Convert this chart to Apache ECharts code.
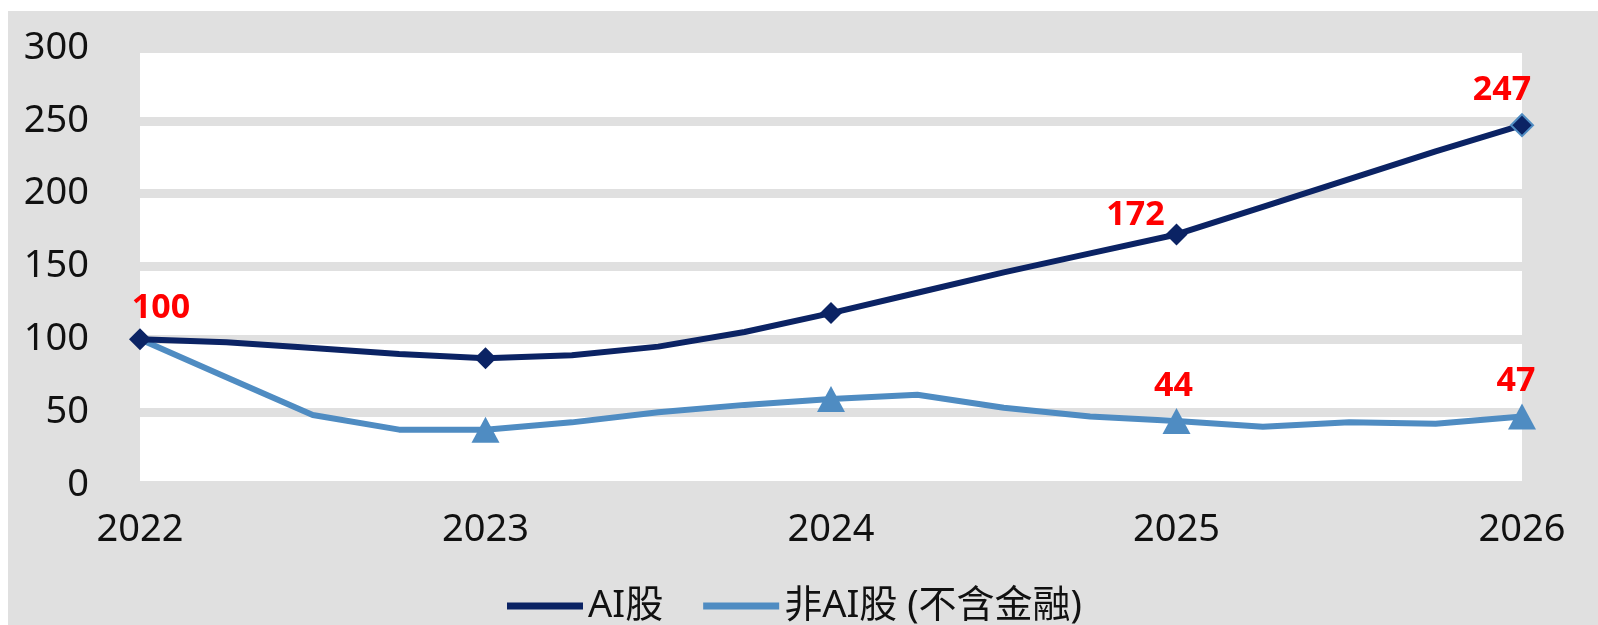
<!DOCTYPE html>
<html>
<head>
<meta charset="utf-8">
<script src="https://cdn.jsdelivr.net/npm/echarts@6/dist/echarts.min.js"></script>
<style>
  html, body { margin: 0; padding: 0; background: #ffffff; }
  #bg { position: absolute; left: 8px; top: 11px; width: 1590px; height: 614px; background: #e0e0e0; }
  #chart { position: absolute; left: 0; top: 0; width: 1598px; height: 625px; }
</style>
</head>
<body>
<div id="bg"></div>
<div id="chart"></div>
<script>
// ---- data ----
const categories = ['2022','2022Q2','2022Q3','2022Q4','2023','2023Q2','2023Q3','2023Q4','2024','2024Q2','2024Q3','2024Q4','2025','2025Q2','2025Q3','2025Q4','2026'];
const aiValues    = [100, 98, 94, 90, 87, 89, 95, 105, 118, 132, 146, 159, 172, 191, 210, 229, 247];
const nonAiValues = [100, 74, 48, 38, 38, 43, 50, 55, 59, 62, 53, 47, 44, 40, 43, 42, 47];
const seriesNames = ['AI股', '非AI股 (不含金融)'];
const yTicks = [0, 50, 100, 150, 200, 250, 300];
const aiMarked = [0, 4, 8, 12, 16];
const nonAiMarked = [4, 8, 12, 16];
const aiLabeled = [0, 12, 16];
const nonAiLabeled = [12, 16];

// ---- styles ----
const FONT = "'Noto Sans', 'Noto Sans CJK TC', sans-serif";
const darkColor = '#0b2364';
const lightColor = '#4f8cc2';
const labelOffsets = {
  ai: {0: [21, -31], 12: [-41, -19], 16: [-20, -35]},
  nonAi: {12: [-3, -35], 16: [-6, -35]}
};
const labelStyle = { color: '#ff0000', fontSize: 34, fontWeight: 'bold', fontFamily: FONT };

function buildData(values, marked, labeled, offsets, size, extra) {
  return values.map((v, i) => {
    const item = { value: v, symbolSize: marked.includes(i) ? size : 0 };
    if (labeled.includes(i)) {
      item.label = Object.assign({ show: true, position: 'inside', offset: offsets[i], formatter: String(v) }, labelStyle);
    }
    if (extra && extra[i]) Object.assign(item, extra[i]);
    return item;
  });
}

const chart = echarts.init(document.getElementById('chart'));
chart.setOption({
  backgroundColor: 'transparent',
  animation: false,
  textStyle: { fontFamily: FONT },
  grid: {
    left: 140, right: 76, top: 48, bottom: 140,
    show: true, backgroundColor: '#ffffff', borderWidth: 0
  },
  legend: {
    data: seriesNames,
    left: 502, top: 582,
    icon: 'rect',
    itemWidth: 76, itemHeight: 7,
    itemGap: 40,
    textStyle: { fontSize: 38, color: '#111', fontFamily: FONT }
  },
  xAxis: {
    type: 'category',
    data: categories,
    boundaryGap: false,
    axisLine: { show: false },
    axisTick: { show: false },
    splitLine: { show: false },
    axisLabel: {
      interval: 3,
      margin: 26,
      fontSize: 38,
      color: '#111',
      fontFamily: FONT
    }
  },
  yAxis: {
    type: 'value',
    min: yTicks[0], max: yTicks[yTicks.length - 1], interval: 50,
    axisLine: { show: false },
    axisTick: { show: false },
    axisLabel: { margin: 51, fontSize: 38, color: '#111', fontFamily: FONT },
    splitLine: { show: true, lineStyle: { color: '#e0e0e0', width: 9 } }
  },
  series: [
    {
      name: seriesNames[1],
      type: 'line',
      z: 2,
      symbol: 'triangle',
      data: buildData(nonAiValues, nonAiMarked, nonAiLabeled, labelOffsets.nonAi, [28, 26]),
      lineStyle: { color: lightColor, width: 6 },
      itemStyle: { color: lightColor },
      label: { show: false },
      emphasis: { disabled: true }
    },
    {
      name: seriesNames[0],
      type: 'line',
      z: 3,
      symbol: 'diamond',
      data: buildData(aiValues, aiMarked, aiLabeled, labelOffsets.ai, 22,
        {16: { itemStyle: { borderColor: lightColor, borderWidth: 2 } }}),
      lineStyle: { color: darkColor, width: 6 },
      itemStyle: { color: darkColor },
      label: { show: false },
      emphasis: { disabled: true }
    }
  ]
});
</script>
</body>
</html>
